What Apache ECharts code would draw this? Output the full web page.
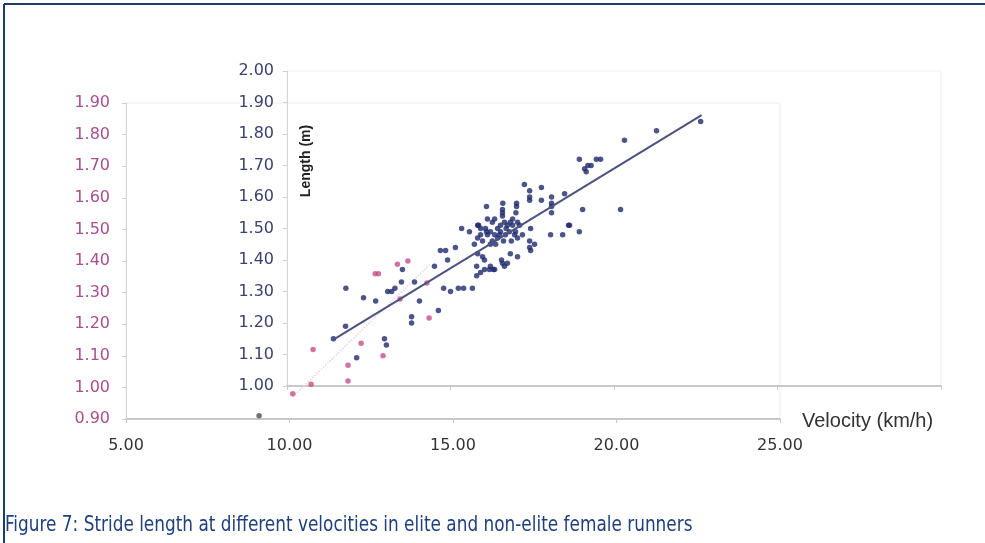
<!DOCTYPE html>
<html>
<head>
<meta charset="utf-8">
<script src="https://cdn.jsdelivr.net/npm/echarts@6/dist/echarts.min.js"></script>
<style>
  html, body { margin: 0; padding: 0; background: #ffffff; }
  #chart { width: 985px; height: 543px; }
</style>
</head>
<body>
<div id="chart"></div>
<script>
// ---------- data ----------
// Elite runners (inner chart)
const eliteVelocity = [
  11.42, 11.79, 11.80, 12.13, 12.34, 12.71, 12.98, 13.04, 13.08, 13.20,
  13.30, 13.50, 13.53, 13.81, 13.81, 13.90, 14.05, 14.51, 14.63, 14.69,
  14.85, 14.79, 14.91, 15.00, 15.15, 15.24, 15.40, 15.67, 15.34, 15.58,
  15.86, 15.73, 15.83, 15.80, 15.80, 16.04, 16.19, 16.31, 16.10, 16.10,
  16.35, 17.26, 17.78, 17.42, 17.42, 17.42, 17.78, 18.09, 18.09, 18.09,
  18.09, 18.49, 16.59, 16.59, 17.02, 17.02, 16.13, 16.28, 16.59, 16.65,
  16.53, 16.83, 16.90, 17.05, 17.11, 16.74, 16.80, 16.68, 16.53, 16.50,
  16.44, 16.99, 16.96, 16.22, 16.35, 16.13, 16.28, 16.38, 16.22, 16.44,
  15.83, 15.92, 15.98, 17.45, 18.06, 18.43, 18.61, 17.05, 17.42, 17.57,
  17.42, 17.45, 16.83, 17.05, 16.56, 16.59, 16.65, 15.98, 16.04, 16.22,
  16.35, 15.92, 15.83, 15.92, 16.07, 16.74, 18.94, 19.46, 19.59, 19.10,
  19.20, 19.30, 19.15, 20.32, 21.30, 22.65, 19.04, 20.20, 18.64, 18.94,
  16.60, 17.00, 16.70, 16.86, 16.62, 17.20, 16.90
];
const eliteLength = [
  1.15, 1.19, 1.31, 1.09, 1.28, 1.27, 1.15, 1.13, 1.30, 1.30,
  1.31, 1.33, 1.37, 1.22, 1.20, 1.33, 1.27, 1.38, 1.24, 1.43,
  1.43, 1.31, 1.40, 1.30, 1.44, 1.31, 1.31, 1.31, 1.50, 1.49,
  1.51, 1.45, 1.42, 1.38, 1.35, 1.37, 1.37, 1.37, 1.57, 1.49,
  1.53, 1.64, 1.63, 1.62, 1.60, 1.59, 1.59, 1.60, 1.58, 1.57,
  1.55, 1.61, 1.56, 1.55, 1.58, 1.57, 1.53, 1.52, 1.54, 1.52,
  1.51, 1.52, 1.51, 1.52, 1.51, 1.51, 1.49, 1.48, 1.49, 1.48,
  1.50, 1.49, 1.48, 1.49, 1.48, 1.48, 1.46, 1.45, 1.45, 1.47,
  1.47, 1.48, 1.46, 1.50, 1.48, 1.48, 1.51, 1.47, 1.46, 1.45,
  1.44, 1.43, 1.42, 1.41, 1.40, 1.39, 1.38, 1.41, 1.40, 1.38,
  1.37, 1.36, 1.51, 1.50, 1.50, 1.39, 1.72, 1.72, 1.72, 1.69,
  1.70, 1.70, 1.68, 1.78, 1.81, 1.84, 1.56, 1.56, 1.51, 1.49,
  1.58, 1.55, 1.50, 1.46, 1.46, 1.48, 1.53
];
// Non-elite runners (outer chart)
const nonEliteVelocity = [10.10, 10.66, 10.72, 11.79, 11.79, 12.19, 12.86, 12.62, 12.72, 13.30, 13.62, 14.27, 14.20, 13.38];
const nonEliteLength   = [0.98, 1.01, 1.12, 1.02, 1.07, 1.14, 1.10, 1.36, 1.36, 1.39, 1.40, 1.22, 1.33, 1.28];
const otherVelocity = [9.07];
const otherLength   = [0.91];
// Trend lines (end points)
const eliteTrendVelocity = [11.42, 22.68];
const eliteTrendLength   = [1.147, 1.86];
const nonEliteTrendVelocity = [10.10, 14.30];
const nonEliteTrendLength   = [0.97, 1.39];

const xTitle = 'Velocity (km/h)';
const yTitle = 'Length (m)';
const caption = 'Figure 7: Stride length at different velocities in elite and non-elite female runners';

// ---------- build ----------
const zip = (a, b) => a.map((v, i) => [v, b[i]]);
const fmt = v => v.toFixed(2);
const labelFont = 'DejaVu Sans';

const option = {
  backgroundColor: '#ffffff',
  animation: false,
  grid: [
    { left: 126, top: 103, width: 654, height: 316, show: true, borderColor: '#ececec', borderWidth: 1, backgroundColor: 'transparent' },
    { left: 287, top: 71, width: 654, height: 315, show: true, borderColor: '#f1f1f1', borderWidth: 1, backgroundColor: 'transparent' }
  ],
  xAxis: [
    {
      gridIndex: 0, type: 'value', min: 5, max: 25, interval: 5,
      axisLine: { lineStyle: { color: '#c9c9c9', width: 2 } },
      axisTick: { show: true, length: 4, lineStyle: { color: '#c9c9c9' } },
      splitLine: { show: false },
      axisLabel: { formatter: fmt, color: '#333333', fontSize: 16, fontFamily: labelFont, margin: 19 }
    },
    {
      gridIndex: 1, type: 'value', min: 10, max: 30, interval: 5,
      axisLine: { lineStyle: { color: '#c9c9c9', width: 2 } },
      axisTick: { show: true, length: 4, lineStyle: { color: '#c9c9c9' } },
      splitLine: { show: false },
      axisLabel: { show: false }
    }
  ],
  yAxis: [
    {
      gridIndex: 0, type: 'value', min: 0.9, max: 1.9, interval: 0.1,
      axisLine: { show: true, lineStyle: { color: '#d6d6d6', width: 1 } },
      axisTick: { show: true, length: 4, lineStyle: { color: '#d0d0d0' } },
      splitLine: { show: false },
      axisLabel: { formatter: fmt, color: '#a94f8e', fontSize: 16, fontFamily: labelFont, margin: 16 }
    },
    {
      gridIndex: 1, type: 'value', min: 1.0, max: 2.0, interval: 0.1,
      axisLine: { show: true, lineStyle: { color: '#d6d6d6', width: 1 } },
      axisTick: { show: true, length: 4, lineStyle: { color: '#d0d0d0' } },
      splitLine: { show: false },
      axisLabel: { formatter: fmt, color: '#3b4270', fontSize: 16, fontFamily: labelFont, margin: 13 }
    }
  ],
  series: [
    {
      type: 'line', xAxisIndex: 0, yAxisIndex: 0,
      data: zip(nonEliteTrendVelocity, nonEliteTrendLength),
      symbol: 'none', lineStyle: { color: '#efcfdd', width: 1.5, type: 'dotted' }, z: 1
    },
    {
      type: 'scatter', xAxisIndex: 0, yAxisIndex: 0,
      data: zip(nonEliteVelocity, nonEliteLength),
      symbolSize: 5.5, itemStyle: { color: '#c4508a' }, z: 2
    },
    {
      type: 'scatter', xAxisIndex: 0, yAxisIndex: 0,
      data: zip(otherVelocity, otherLength),
      symbolSize: 5.5, itemStyle: { color: '#4d4d5c' }, z: 2
    },
    {
      type: 'scatter', xAxisIndex: 1, yAxisIndex: 1,
      data: zip(eliteVelocity, eliteLength),
      symbolSize: 5.5, itemStyle: { color: '#1f2a6b' }, z: 3
    },
    {
      type: 'line', xAxisIndex: 1, yAxisIndex: 1,
      data: zip(eliteTrendVelocity, eliteTrendLength),
      symbol: 'none', lineStyle: { color: '#4d5280', width: 2 }, z: 4
    }
  ],
  graphic: [
    { type: 'line', shape: { x1: 4, y1: 4, x2: 985, y2: 4 }, style: { stroke: '#1d3a6e', lineWidth: 2 } },
    { type: 'line', shape: { x1: 4, y1: 4, x2: 4, y2: 543 }, style: { stroke: '#1d3a6e', lineWidth: 2 } },
    {
      type: 'text', x: 802, y: 421,
      style: { text: xTitle, fill: '#333333', font: '20px "Liberation Sans", Arial, sans-serif', textAlign: 'left', textVerticalAlign: 'middle' }
    },
    {
      type: 'text', x: 306, y: 161, rotation: Math.PI / 2,
      style: { text: yTitle, fill: '#222222', font: 'bold 14px "Liberation Sans", Arial, sans-serif', textAlign: 'center', textVerticalAlign: 'middle' }
    },
    {
      type: 'text', x: 5, y: 526, scaleX: 0.895, scaleY: 1,
      style: { text: caption, fill: '#1f3f7f', font: '21px "DejaVu Sans Condensed", "DejaVu Sans", sans-serif', textAlign: 'left', textVerticalAlign: 'middle' }
    }
  ]
};

const chart = echarts.init(document.getElementById('chart'), null, { renderer: 'canvas' });
chart.setOption(option);
</script>
</body>
</html>
